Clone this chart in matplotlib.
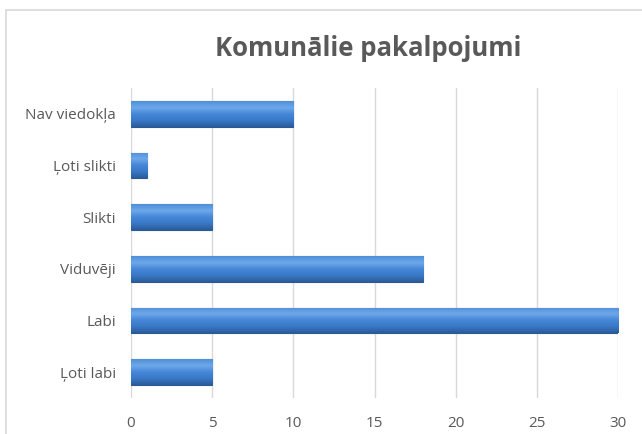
import numpy as np
import matplotlib
matplotlib.use("Agg")
import matplotlib.pyplot as plt
from matplotlib.patches import Rectangle
from matplotlib.colors import LinearSegmentedColormap

# data
categories = ["Ļoti labi", "Labi", "Viduvēji", "Slikti", "Ļoti slikti", "Nav viedokļa"]
values = [5, 30, 18, 5, 1, 10]
xticks = [0, 5, 10, 15, 20, 25, 30]

plt.rcParams['font.family'] = ['Open Sans', 'DejaVu Sans']

fig = plt.figure(figsize=(6.42, 4.34), dpi=100)
ax = fig.add_axes([0.204, 0.083, 0.759, 0.714])

# outer chart frame (light grey, runs off the right/bottom edge)
fig.patches.append(Rectangle((6 / 642, -0.05), 1.0, 1 - 10 / 434 + 0.05,
                             transform=fig.transFigure, fill=False,
                             edgecolor="#d9d9d9", lw=1.2))

y = np.arange(len(categories))
bars = ax.barh(y, values, height=0.5, color="#3b78c4", edgecolor="#2a5a95", lw=0.8, zorder=3)

# cylinder-ish shading
cmap = LinearSegmentedColormap.from_list("bev", ["#2b5c9b", "#3a78c6", "#4587d8", "#6ea8ea", "#4f8fd8"])
grad = np.linspace(0, 1, 64).reshape(-1, 1)
for b in bars:
    x0, y0 = b.get_x(), b.get_y()
    w, h = b.get_width(), b.get_height()
    im = ax.imshow(grad, cmap=cmap, aspect="auto", origin="lower",
                   extent=(x0, x0 + w, y0, y0 + h), zorder=3.5)
    im.set_clip_path(b)

ax.set_xlim(0, 30)
ax.set_ylim(-0.5, len(categories) - 0.5)
ax.set_xticks(xticks)
ax.set_yticks(y)
ax.set_yticklabels(categories)
ax.tick_params(length=0, labelsize=11, colors="#595959")
ax.tick_params(axis="y", pad=11)
ax.tick_params(axis="x", pad=13)
ax.grid(axis="x", color="#d9d9d9", lw=1, zorder=0)
for s in ax.spines.values():
    s.set_visible(False)

fig.text(0.574, 0.889, "Komunālie pakalpojumi", ha="center", va="center",
         fontsize=18.5, fontweight="bold", color="#595959")

fig.savefig("out.png", dpi=100)
